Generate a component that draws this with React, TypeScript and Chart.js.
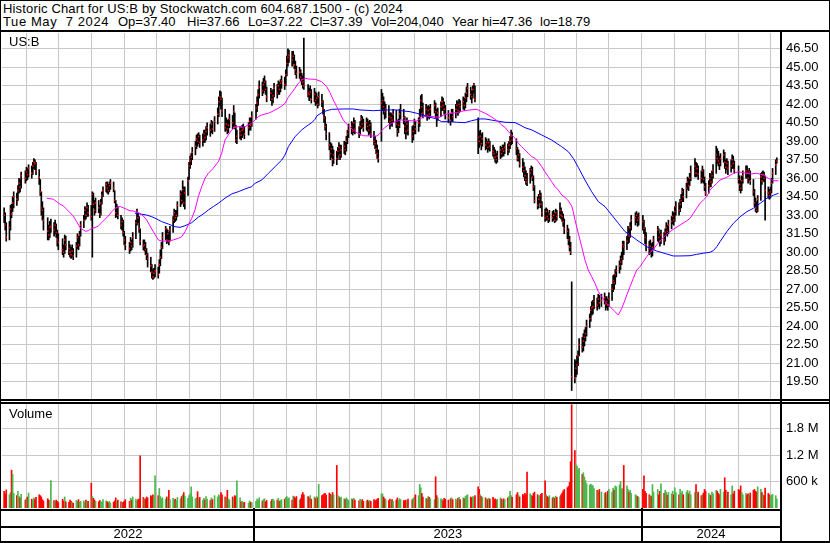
import React, { useEffect, useRef } from 'react';
import { Chart, registerables } from 'chart.js';

Chart.register(...registerables);

// ---------------- data ----------------
const FIRST_TRADING_DAY = [2022, 4, 11]; // 11 May 2022
const HOLIDAYS = [
  '2022-05-30', '2022-06-20', '2022-07-04', '2022-09-05', '2022-11-24', '2022-12-26',
  '2023-01-02', '2023-01-16', '2023-02-20', '2023-04-07', '2023-05-29', '2023-06-19',
  '2023-07-04', '2023-09-04', '2023-11-23', '2023-12-25', '2024-01-01', '2024-01-15',
  '2024-02-19', '2024-03-29',
];

const cl = [
  33.0,32.2,31.2,32.0,33.5,33.1,34.0,34.5,34.3,35.0,
  35.6,35.3,36.2,36.0,36.5,36.3,36.8,36.4,37.0,37.3,
  37.2,36.6,36.1,34.9,33.6,33.4,32.6,31.7,31.4,32.0,
  32.1,31.8,32.2,31.6,31.0,30.8,30.2,30.0,31.0,30.6,
  30.3,30.0,29.8,30.1,29.7,30.5,31.2,30.6,31.4,32.2,
  32.6,33.4,33.0,33.6,33.2,32.9,34.7,33.9,33.4,34.0,
  33.6,33.1,34.0,34.6,35.0,35.5,35.2,35.0,35.4,35.6,
  35.2,34.2,33.2,33.6,33.0,32.2,32.5,31.6,31.0,30.6,
  30.3,30.8,30.5,31.2,32.4,33.3,32.8,31.9,30.9,30.5,
  30.6,30.2,29.8,29.5,28.9,28.4,28.0,28.3,28.5,28.2,
  29.0,29.6,30.4,31.2,31.9,31.0,31.5,30.9,31.8,32.6,
  33.2,32.8,33.0,33.8,34.7,34.2,35.1,34.0,34.8,35.8,
  37.0,37.4,37.7,38.1,38.6,39.2,39.0,39.4,38.9,39.1,
  39.6,39.3,39.8,40.1,39.9,40.4,40.0,40.6,41.2,42.2,
  42.6,42.4,41.5,40.1,40.4,40.0,40.3,40.8,40.5,41.4,
  40.2,39.1,39.4,39.8,39.5,39.9,40.0,39.6,40.1,40.6,
  40.3,41.0,41.7,42.1,42.8,43.4,43.1,43.6,43.8,43.2,
  42.6,42.9,42.4,42.7,43.3,42.9,43.5,43.2,43.7,43.9,
  43.6,44.4,45.3,45.8,46.0,45.6,45.9,45.2,44.8,44.5,
  44.6,44.2,44.0,43.8,43.5,42.9,42.8,43.0,42.4,42.8,
  42.3,42.5,42.0,42.6,42.2,41.6,40.9,40.2,39.6,38.7,
  38.0,38.4,37.5,37.9,37.6,38.2,38.5,37.9,38.3,38.6,
  38.3,39.0,39.6,39.9,40.2,39.8,40.5,40.0,39.6,40.2,
  40.8,40.4,40.1,40.5,40.2,39.9,40.3,39.6,39.0,38.8,
  38.4,38.0,37.6,42.1,42.3,41.8,41.4,41.6,41.0,40.6,
  40.9,40.7,41.2,40.4,39.8,40.3,41.2,41.5,40.9,40.2,
  39.8,40.4,39.9,39.4,39.8,40.3,40.0,40.5,41.0,42.3,
  41.8,41.3,41.6,41.1,41.5,41.2,41.6,41.9,41.4,40.9,
  41.3,41.8,42.2,41.9,41.6,41.2,40.9,40.7,41.3,41.0,
  41.6,41.9,41.5,42.0,41.8,42.2,41.9,42.5,42.9,43.3,
  42.8,42.6,43.2,43.6,42.4,39.3,39.0,39.4,38.8,39.2,
  38.7,38.9,38.5,38.9,38.6,38.2,38.0,37.7,37.5,37.8,
  38.3,38.0,38.4,38.2,38.5,38.3,38.7,39.0,39.4,39.1,
  38.4,37.6,37.9,37.2,36.9,36.6,36.2,35.9,35.7,36.4,
  36.7,36.1,35.3,34.2,33.8,34.3,34.6,33.9,33.2,32.8,
  33.3,32.9,32.7,33.1,32.8,33.0,32.6,33.2,32.9,33.4,
  33.0,32.9,32.5,31.9,31.7,31.0,30.4,30.0,19.9,19.8,
  20.6,20.85,21.6,22.5,22.3,22.8,23.1,23.4,24.0,24.6,
  25.3,25.5,25.6,26.0,25.7,26.2,25.9,26.1,26.3,25.8,
  26.0,25.7,26.2,27.0,27.7,27.5,28.2,28.5,28.9,29.2,
  29.5,30.6,30.45,30.9,31.5,31.3,32.0,32.6,32.8,33.0,
  32.6,32.8,32.5,31.95,31.2,30.6,30.3,30.5,30.1,30.4,
  31.0,31.8,31.2,30.9,31.4,31.0,31.6,32.0,31.7,32.2,
  32.5,32.9,32.6,33.3,33.7,33.4,33.9,34.2,34.9,34.5,
  35.2,35.7,35.4,36.0,36.5,37.0,36.4,36.8,36.35,36.0,
  36.6,35.9,35.3,34.8,35.4,36.0,35.7,36.2,36.6,37.9,
  37.6,37.4,37.2,37.6,37.9,37.3,36.9,37.2,36.8,37.0,
  37.5,37.2,36.7,35.9,35.5,35.2,35.8,36.2,36.6,36.4,
  36.0,36.5,35.8,34.9,34.0,33.6,33.4,34.3,36.1,35.8,
  36.3,36.0,35.0,34.8,34.6,34.9,35.6,36.4,37.1,37.39,
];

const hi = [
  33.6,33.2,32.4,32.5,33.8,33.9,34.5,34.9,34.8,35.4,
  36.0,35.9,36.5,36.6,36.9,36.8,37.1,37.0,37.3,37.6,
  37.5,37.3,36.7,35.9,34.9,34.1,33.6,32.8,32.2,32.5,
  32.7,32.4,32.6,32.3,31.8,31.5,31.1,30.6,31.4,31.3,
  30.9,30.6,30.4,30.6,30.3,30.8,31.5,31.3,31.7,32.5,
  33.0,33.7,33.6,34.0,33.8,33.8,34.9,34.8,34.2,34.4,
  34.2,33.8,34.3,34.9,35.3,35.7,35.7,35.5,35.7,35.9,
  35.7,35.0,34.2,33.9,33.7,33.0,32.8,32.6,31.7,31.3,
  30.8,31.2,31.0,31.6,32.6,33.5,33.2,32.9,31.9,31.0,
  31.0,30.8,30.3,29.9,29.6,29.0,28.6,28.7,29.0,28.8,
  29.4,30.2,30.8,31.6,32.1,31.9,31.8,31.6,32.1,32.9,
  33.5,33.4,33.4,34.1,35.0,34.9,35.8,35.3,35.3,36.1,
  37.3,37.8,38.0,38.5,39.0,39.5,39.6,39.7,39.5,39.6,
  39.9,39.9,40.2,40.5,40.4,40.7,40.6,41.0,41.7,42.6,
  43.1,43.0,42.5,41.6,40.9,40.7,40.8,41.2,41.1,41.9,
  41.3,40.3,39.9,40.2,40.1,40.3,40.4,40.2,40.5,40.9,
  40.9,41.4,42.0,42.6,43.2,43.9,43.8,44.1,44.3,43.9,
  43.4,43.3,43.1,43.2,43.7,43.6,43.9,43.8,44.0,44.3,
  44.2,44.8,45.9,46.5,46.4,46.3,46.3,46.0,45.5,45.1,
  45.0,44.8,44.5,44.3,47.36,43.6,43.3,43.5,43.2,43.3,
  43.0,42.9,42.6,43.0,42.8,42.3,41.6,41.0,40.4,39.7,
  38.9,38.8,38.6,38.3,38.2,38.5,38.9,38.7,38.7,39.0,
  38.9,39.4,39.9,40.4,40.6,40.5,40.9,40.7,40.2,40.6,
  41.1,41.0,40.8,40.9,40.8,40.6,40.7,40.5,39.8,39.4,
  39.1,38.7,38.3,43.2,42.9,42.6,42.2,42.0,41.9,41.3,
  41.3,41.2,41.6,41.5,40.7,40.8,41.6,42.0,41.6,41.0,
  40.5,40.9,40.7,40.2,40.3,40.8,40.6,40.9,41.6,42.7,
  42.8,42.1,42.0,41.8,41.9,41.8,42.0,42.3,42.1,41.6,
  41.7,42.2,42.6,42.5,42.2,41.9,41.5,41.2,41.6,41.6,
  42.0,42.3,42.2,42.4,42.3,42.6,42.5,42.9,43.4,43.7,
  43.4,43.1,43.5,43.7,43.5,40.9,39.8,39.9,39.6,39.7,
  39.3,39.2,39.0,39.2,39.0,38.7,38.5,38.3,38.0,38.2,
  38.6,38.5,38.7,38.7,38.9,38.8,39.0,39.4,39.9,39.7,
  39.2,38.5,38.3,38.0,37.6,37.3,36.9,36.6,36.4,36.8,
  37.0,36.9,36.2,35.4,34.5,34.7,35.0,34.8,34.1,33.5,
  33.6,33.5,33.2,33.4,33.3,33.4,33.2,33.5,33.4,34.0,
  33.6,33.3,33.1,32.7,32.2,31.9,31.3,30.8,27.6,21.3,
  21.2,21.6,22.0,23.0,23.1,23.4,23.7,23.9,24.5,25.0,
  25.6,26.0,26.1,26.5,26.3,26.6,26.5,26.6,26.7,26.4,
  26.4,26.2,26.7,27.4,28.1,28.2,28.6,28.9,29.3,29.7,
  30.0,30.9,30.9,31.3,32.1,31.9,32.4,33.0,33.2,33.3,
  33.1,33.2,33.0,32.6,32.0,31.6,30.9,31.0,30.7,30.8,
  31.3,32.1,31.9,31.5,31.8,31.6,31.9,32.4,32.2,32.6,
  32.9,33.3,33.2,33.7,34.1,34.0,34.3,34.7,35.2,35.1,
  35.6,36.1,36.0,36.4,37.0,37.6,37.3,37.2,37.0,36.6,
  37.0,36.7,36.1,35.6,35.8,36.4,36.3,36.6,37.1,38.6,
  38.4,38.2,37.8,38.0,38.3,38.1,37.5,37.6,37.4,37.5,
  37.9,37.8,37.4,37.0,36.2,35.8,36.2,36.6,37.0,37.0,
  36.6,36.8,36.6,35.9,35.1,34.4,34.1,34.6,36.4,36.5,
  36.6,36.5,36.2,35.3,35.1,35.3,36.0,36.8,37.5,37.66,
];

const lo = [
  32.4,31.8,30.9,31.0,31.8,32.8,33.3,33.6,33.8,34.2,
  34.8,34.9,35.2,35.6,35.8,35.9,36.1,36.0,36.3,36.8,
  36.7,36.3,35.5,34.6,33.0,32.6,31.8,31.0,31.0,31.2,
  31.6,31.3,31.5,31.2,30.5,30.2,29.8,29.6,29.9,30.2,
  29.8,29.6,29.5,29.6,29.4,29.6,30.3,30.2,30.5,31.3,
  32.0,32.6,32.7,32.9,32.9,32.6,29.6,33.6,33.0,33.2,
  33.2,32.8,33.0,33.9,34.5,34.9,34.8,34.7,34.9,35.1,
  34.9,34.0,32.8,32.9,32.7,31.9,31.8,31.3,30.6,30.2,
  29.9,30.1,30.2,30.4,31.1,32.2,32.4,31.6,30.6,30.2,
  30.1,29.8,29.4,28.8,28.4,27.9,27.8,27.9,28.0,27.9,
  28.3,28.9,29.5,30.3,31.0,30.7,30.8,30.6,30.9,31.6,
  32.4,32.5,32.6,32.9,33.7,33.9,34.0,33.7,33.5,34.6,
  35.9,36.8,37.1,37.5,37.9,38.4,38.6,38.8,38.5,38.6,
  38.9,38.9,39.1,39.5,39.4,39.7,39.6,39.8,40.4,41.0,
  41.9,41.6,41.0,39.8,39.9,39.6,39.7,40.1,40.0,40.2,
  40.0,38.9,38.8,39.2,39.1,39.3,39.5,39.2,39.5,39.9,
  39.9,40.2,40.8,41.4,41.9,42.5,42.7,42.9,43.1,42.8,
  42.2,42.3,41.9,42.1,42.6,42.5,42.8,42.8,43.0,43.3,
  43.2,43.5,44.3,45.1,45.4,45.1,45.3,44.9,44.4,44.1,
  44.1,43.9,43.6,43.3,43.2,42.6,42.3,42.5,42.1,42.2,
  41.9,42.0,41.7,41.9,41.8,41.2,40.5,39.9,39.1,38.3,
  37.5,37.7,37.0,37.2,37.1,37.5,37.9,37.5,37.7,38.0,
  37.9,38.2,38.8,39.3,39.6,39.5,39.7,39.6,39.3,39.5,
  40.0,40.1,39.8,39.9,39.8,39.5,39.6,39.3,38.7,38.4,
  38.0,37.6,37.3,39.0,41.5,41.2,40.8,40.9,40.5,40.0,
  40.3,40.2,40.5,40.1,39.4,39.7,40.1,40.8,40.4,39.6,
  39.2,39.6,39.5,38.9,39.1,39.6,39.6,39.8,40.2,41.0,
  41.3,40.9,41.0,40.7,40.9,40.8,41.0,41.3,40.9,40.2,
  40.7,41.0,41.5,41.5,41.2,40.8,40.5,40.3,40.6,40.6,
  40.9,41.3,41.1,41.3,41.4,41.6,41.5,41.7,42.2,42.6,
  42.4,42.1,42.5,42.9,42.2,38.0,38.5,38.7,38.3,38.6,
  38.3,38.4,38.1,38.3,38.2,37.8,37.6,37.3,37.2,37.3,
  37.6,37.7,37.8,37.8,38.0,37.9,38.1,38.4,38.7,38.8,
  37.9,37.4,37.4,36.9,36.5,36.1,35.8,35.5,35.4,35.6,
  36.1,35.8,35.0,34.0,33.5,33.6,34.0,33.6,32.9,32.5,
  32.6,32.6,32.4,32.5,32.5,32.6,32.4,32.5,32.6,32.8,
  32.7,32.5,32.1,31.5,31.1,30.6,30.1,29.8,18.79,19.4,
  19.9,20.1,20.8,21.6,21.9,22.0,22.4,22.8,23.2,23.9,
  24.4,24.9,25.0,25.4,25.3,25.6,25.4,25.6,25.8,25.3,
  25.5,25.3,25.6,26.1,26.8,27.0,27.4,28.0,28.3,28.6,
  29.0,29.4,29.8,30.2,30.7,30.8,31.2,31.8,32.2,32.4,
  32.1,32.2,31.8,31.5,30.7,30.1,29.8,29.9,29.6,29.7,
  30.2,30.9,30.8,30.5,30.7,30.6,30.9,31.4,31.3,31.5,
  31.9,32.3,32.2,32.5,33.0,33.0,33.3,33.6,34.1,34.1,
  34.4,35.1,35.0,35.4,35.8,36.1,36.1,36.2,35.9,35.6,
  35.7,35.6,35.0,34.6,34.8,35.3,35.3,35.6,36.0,36.4,
  37.2,37.0,36.7,37.0,37.3,36.8,36.4,36.7,36.3,36.5,
  36.8,36.8,36.4,35.6,35.0,34.8,35.0,35.6,36.0,36.0,
  35.6,35.8,35.5,34.6,33.7,33.3,33.2,33.3,34.2,35.5,
  35.8,35.7,32.6,34.4,34.3,34.4,34.8,35.6,36.3,37.22,
];

// daily volume, thousands of shares
const volK = [
  380,320,410,300,350,857,764,330,280,380,
  260,230,310,180,220,250,340,200,170,230,
  190,240,300,280,250,190,160,210,180,150,
  620,170,140,180,150,120,200,160,250,140,
  130,180,150,120,110,170,150,190,130,150,
  160,120,180,140,150,564,260,220,180,150,
  140,170,150,130,190,160,140,120,150,110,
  130,160,230,150,180,140,120,130,160,190,
  150,220,180,250,200,160,190,210,1180,240,
  210,200,250,230,280,260,300,250,730,280,
  443,260,210,230,200,250,220,400,190,220,
  180,200,160,240,210,260,300,350,270,220,
  280,320,478,250,210,230,370,200,240,180,
  220,180,260,200,170,230,190,280,250,300,
  260,350,300,250,230,400,200,180,250,220,
  280,260,614,230,140,150,120,130,110,160,
  130,120,150,200,180,230,160,190,210,140,
  170,150,190,200,160,180,220,150,170,190,
  200,240,260,210,230,180,270,250,220,260,
  180,210,300,350,300,260,230,280,200,250,
  220,260,230,535,280,300,320,330,290,340,
  310,280,350,300,964,280,260,230,250,210,
  190,230,200,170,210,190,220,180,160,200,
  170,190,150,160,180,140,170,150,190,160,
  180,200,220,320,320,250,210,190,170,200,
  160,190,150,180,230,170,210,190,170,160,
  180,150,200,190,220,250,300,280,535,460,
  330,250,220,200,260,240,210,190,707,280,
  230,210,190,170,220,200,180,210,230,190,
  200,170,220,240,190,230,210,260,280,300,
  250,230,260,240,280,480,420,300,260,240,
  230,210,190,220,200,240,190,210,180,200,
  230,200,170,210,190,230,260,380,280,240,
  300,350,290,250,310,280,330,300,814,320,
  290,270,330,360,300,250,280,310,330,614,
  300,260,240,280,230,250,220,270,240,260,
  300,340,390,420,460,490,580,1050,2340,1300,
  980,950,870,900,760,800,700,620,550,520,
  540,520,500,440,400,380,420,360,330,350,
  300,380,420,360,450,400,500,480,520,600,
  440,430,964,500,420,360,400,330,300,280,
  260,240,420,728,380,330,300,280,260,530,
  360,420,300,380,550,330,400,360,290,350,
  320,380,300,457,350,300,420,330,380,300,
  360,400,320,380,300,350,528,330,360,280,
  300,340,420,380,330,300,280,360,320,400,
  380,330,300,420,360,685,400,320,360,300,
  500,320,380,420,400,500,350,300,330,290,
  320,280,340,400,420,380,360,480,420,350,
  300,280,450,330,300,260,290,310,280,204.04,
];

// moving averages: [day number since 1 Jan 2022, price]
const maFast = [
  [170.1,34.38],[176.3,34.3],[179.5,34.1],[182.6,33.9],[185.7,33.75],[188.9,33.48],[192.0,33.2],[195.1,32.94],
  [198.3,32.48],[201.4,32.0],[204.5,31.8],[207.0,31.7],[209.2,31.75],[212.4,31.94],[215.5,32.0],[218.6,32.13],
  [221.8,32.4],[224.9,32.67],[228.0,32.94],[231.2,33.29],[234.3,33.56],[237.4,33.7],[239.7,33.7],[242.1,33.6],
  [245.3,33.48],[248.4,33.37],[251.5,33.35],[254.7,33.24],[257.8,33.16],[260.9,32.94],[264.1,32.62],[267.3,32.13],
  [270.4,31.67],[273.6,31.21],[275.1,31.0],[278.3,30.91],[284.5,30.91],[289.2,31.0],[293.9,31.13],[297.1,31.26],
  [300.2,31.67],[303.3,32.21],[306.5,32.75],[309.6,33.43],[312.7,34.5],[315.9,35.32],[319.0,36.0],[322.1,36.4],
  [326.8,36.81],[331.5,37.34],[334.7,38.03],[337.8,39.1],[340.9,39.51],[344.1,39.92],[347.2,40.13],[350.3,40.18],
  [353.5,40.13],[356.6,40.18],[359.7,40.32],[362.9,40.46],[366.1,40.73],[369.2,41.0],[372.4,41.13],[375.5,41.21],
  [378.6,41.27],[381.8,41.4],[384.9,41.54],[388.0,41.68],[391.2,41.86],[394.3,42.08],[397.4,42.57],[400.6,42.94],
  [403.7,43.3],[406.8,43.7],[410.0,43.97],[413.1,44.11],[416.2,44.05],[419.4,44.03],[422.5,44.03],[428.8,43.83],
  [433.5,43.43],[436.6,42.94],[439.7,42.35],[442.9,41.81],[446.0,41.27],[449.1,40.73],[452.3,40.38],[455.4,40.13],
  [458.5,39.92],[461.7,39.7],[464.8,39.57],[468.0,39.45],[474.3,39.43],[480.6,39.43],[483.0,39.57],[485.3,39.86],
  [488.4,40.13],[491.5,40.32],[494.7,40.46],[497.8,40.59],[500.9,40.67],[504.1,40.73],[510.3,40.67],[518.2,40.65],
  [521.3,40.78],[524.4,41.0],[527.6,41.05],[532.3,41.0],[540.1,40.95],[543.2,41.11],[549.5,41.27],[555.8,41.32],
  [562.0,41.46],[568.3,41.54],[574.7,41.59],[577.8,41.46],[582.5,41.27],[587.2,41.05],[591.9,40.78],[595.0,40.59],
  [598.2,40.32],[601.3,40.13],[604.4,39.78],[607.6,39.51],[610.7,39.24],[613.8,38.84],[617.0,38.56],[620.1,38.29],
  [623.2,38.03],[626.4,37.75],[629.5,37.62],[632.6,37.34],[635.8,36.94],[638.9,36.53],[642.0,36.13],[645.2,35.72],
  [648.3,35.32],[651.4,35.05],[654.6,34.64],[657.7,34.46],[660.8,34.18],[664.0,33.75],[665.5,33.29],[667.1,32.62],
  [670.2,31.54],[673.4,30.45],[676.5,29.37],[679.6,28.56],[682.8,28.02],[685.9,27.48],[689.1,26.8],[692.3,26.4],
  [695.4,25.99],[698.5,25.72],[701.7,25.45],[704.8,25.18],[707.9,24.91],[711.1,25.45],[714.2,26.13],[715.8,26.53],
  [718.9,27.21],[722.0,27.89],[725.2,28.56],[728.3,28.83],[731.4,29.23],[734.6,29.64],[737.7,29.96],[740.8,30.24],
  [744.0,30.59],[747.1,30.91],[753.4,31.48],[759.6,31.86],[765.9,32.21],[772.2,32.54],[775.4,32.75],[778.5,33.16],
  [781.6,33.57],[784.8,33.97],[787.9,34.24],[791.1,34.51],[794.2,35.05],[797.3,35.32],[800.5,35.59],[803.6,35.86],
  [809.9,36.08],[816.2,36.4],[820.8,36.53],[825.5,36.45],[831.8,36.35],[838.1,36.4],[844.3,36.27],[849.0,36.0],
  [853.8,35.8],[858.5,35.8],
];

const maSlow = [
  [253.1,33.16],[257.8,33.1],[264.1,33.02],[268.9,32.88],[273.6,32.7],[278.3,32.48],[284.5,32.29],[290.8,32.07],
  [295.5,32.02],[300.2,32.15],[303.3,32.27],[306.5,32.4],[309.6,32.62],[312.7,32.84],[315.9,33.02],[319.0,33.21],
  [322.1,33.43],[326.8,33.7],[331.5,33.97],[334.7,34.18],[337.8,34.38],[344.1,34.73],[350.3,34.91],[356.6,35.13],
  [362.9,35.32],[366.1,35.59],[372.4,35.86],[378.6,36.4],[384.9,36.94],[391.2,37.48],[394.3,37.89],[397.4,38.56],
  [400.6,38.97],[403.7,39.37],[406.8,39.65],[410.0,39.92],[413.1,40.13],[416.2,40.32],[419.4,40.51],[422.5,40.78],
  [424.1,41.05],[428.8,41.32],[433.5,41.48],[438.2,41.59],[449.1,41.62],[458.5,41.62],[464.8,41.54],[477.4,41.48],
  [490.0,41.54],[499.4,41.54],[505.6,41.46],[511.9,41.4],[518.2,41.27],[524.4,41.13],[530.7,40.95],[537.0,40.81],
  [541.7,40.59],[549.5,40.59],[555.8,40.54],[563.6,40.51],[569.9,40.67],[577.8,40.81],[582.5,40.81],[591.9,40.67],
  [601.3,40.54],[610.7,40.51],[615.4,40.32],[620.1,40.1],[626.4,39.92],[635.8,39.51],[645.2,39.1],[654.6,38.56],
  [660.8,38.16],[665.5,37.62],[670.2,36.89],[676.5,35.86],[682.8,34.91],[689.1,34.1],[695.4,33.7],[701.7,33.02],
  [707.9,32.35],[714.2,31.67],[718.9,31.4],[725.2,31.0],[734.6,30.45],[744.0,30.1],[753.4,29.86],[759.6,29.7],
  [765.9,29.7],[775.4,29.72],[781.6,29.83],[787.9,29.92],[794.2,30.0],[797.3,30.13],[800.5,30.45],[803.6,30.86],
  [809.9,31.67],[816.2,32.35],[822.5,32.88],[828.8,33.29],[835.1,33.57],[841.4,33.97],[847.7,34.38],[854.0,34.64],
  [858.7,34.78],
];

const priceTicks = [19.5, 21, 22.5, 24, 25.5, 27, 28.5, 30, 31.5, 33, 34.5, 36, 37.5, 39, 40.5, 42, 43.5, 45, 46.5];
const volTicks = [600000, 1200000, 1800000];
const volTickLabels = ['600 k', '1.2 M', '1.8 M'];
const yearLabels = ['2022', '2023', '2024'];
const titleLine = 'Historic Chart for US:B by Stockwatch.com 604.687.1500 - (c) 2024';
// quote line fields with their x position in the header
const quoteFields: [string, number][] = [
  ['Tue May  7 2024', 3],
  ['Op=37.40', 118],
  ['Hi=37.66', 187],
  ['Lo=37.22', 248],
  ['Cl=37.39', 310],
  ['Vol=204,040', 371],
  ['Year hi=47.36', 452],
  ['lo=18.79', 540],
];
const symbolLabel = 'US:B';
const volumeLabel = 'Volume';

// ---------------- layout / style ----------------
const W = 830;
const H = 543;
const PLOT_L = 2;
const AXIS_W = 50;
const PRICE_TOP = 33;
const PRICE_BOT = 399;
const VOL_TOP = 404;
const VOL_BOT = 508;
const X_MIN = 128;
const X_MAX = 860;
const P_MIN = 18.1;
const P_MAX = 47.78;
const V_MAX = 2355000;
const GRID = '#c8c8c8';
const FONT = '"Liberation Sans", Arial, Helvetica, sans-serif';
const UP = '#4cb84c';
const DOWN = '#ff0000';

const DAY_MS = 86400000;
const EPOCH = Date.UTC(2022, 0, 1);
const dayNum = (t: number) => Math.round((t - EPOCH) / DAY_MS);

function tradingDayNumbers(n: number): number[] {
  const out: number[] = [];
  let t = Date.UTC(FIRST_TRADING_DAY[0], FIRST_TRADING_DAY[1], FIRST_TRADING_DAY[2]);
  while (out.length < n) {
    const dt = new Date(t);
    const wd = dt.getUTCDay();
    const iso = dt.toISOString().slice(0, 10);
    if (wd !== 0 && wd !== 6 && HOLIDAYS.indexOf(iso) < 0) out.push(dayNum(t));
    t += DAY_MS;
  }
  return out;
}

function monthStartNumbers(): number[] {
  const out: number[] = [];
  let y = 2022;
  let m = 0;
  for (;;) {
    const d = dayNum(Date.UTC(y, m, 1));
    if (d > X_MAX) break;
    if (d > X_MIN) out.push(d);
    m += 1;
    if (m > 11) { m = 0; y += 1; }
  }
  return out;
}

const yearStarts = [dayNum(Date.UTC(2023, 0, 1)), dayNum(Date.UTC(2024, 0, 1))];

const noPadV = (s: any) => { s.width = AXIS_W; s.paddingTop = 0; s.paddingBottom = 0; };

export default function App() {
  const priceRef = useRef<HTMLCanvasElement | null>(null);
  const volRef = useRef<HTMLCanvasElement | null>(null);

  useEffect(() => {
    document.body.style.margin = '0';
    const days = tradingDayNumbers(cl.length);
    const months = monthStartNumbers();

    const xScale: any = {
      type: 'linear',
      min: X_MIN,
      max: X_MAX,
      offset: false,
      ticks: { display: false },
      grid: { color: GRID, lineWidth: 1, drawTicks: false, offset: false },
      border: { display: false },
      afterBuildTicks: (s: any) => { s.ticks = months.map((v) => ({ value: v })); },
      afterFit: (s: any) => { s.height = 0; s.paddingLeft = 0; s.paddingRight = 0; },
    };

    const priceChart = new Chart(priceRef.current as HTMLCanvasElement, {
      type: 'bar',
      data: {
        datasets: [
          {
            type: 'line',
            data: maFast.map(([x, y]) => ({ x, y })),
            borderColor: '#ff00ff',
            borderWidth: 1,
            pointRadius: 0,
            tension: 0,
            order: 1,
          } as any,
          {
            type: 'line',
            data: maSlow.map(([x, y]) => ({ x, y })),
            borderColor: '#0000ff',
            borderWidth: 1,
            pointRadius: 0,
            tension: 0,
            order: 2,
          } as any,
          {
            type: 'line',
            data: days.map((x, k) => ({ x, y: cl[k] })),
            showLine: false,
            pointStyle: 'rect',
            pointRadius: 1.05,
            pointBackgroundColor: '#ff0000',
            pointBorderWidth: 0,
            order: 3,
          } as any,
          {
            type: 'bar',
            data: days.map((x, k) => ({ x, y: [lo[k], hi[k]] })),
            backgroundColor: '#000000',
            barThickness: 1,
            order: 4,
          } as any,
        ],
      },
      options: {
        animation: false,
        responsive: false,
        maintainAspectRatio: false,
        devicePixelRatio: 1,
        layout: { autoPadding: false, padding: { left: PLOT_L, right: 0, top: 0, bottom: 0 } },
        plugins: { legend: { display: false }, tooltip: { enabled: false }, title: { display: false } },
        scales: {
          x: xScale,
          y: {
            type: 'linear',
            position: 'right',
            min: P_MIN,
            max: P_MAX,
            afterBuildTicks: (s: any) => { s.ticks = priceTicks.map((v) => ({ value: v })); },
            afterFit: noPadV,
            ticks: {
              autoSkip: false,
              padding: 6,
              color: '#000',
              font: { family: FONT, size: 13 },
              callback: (v: any) => Number(v).toFixed(2),
            },
            grid: { color: GRID, lineWidth: 1, drawTicks: false },
            border: { display: false },
          },
        },
      } as any,
    });

    const volColors = volK.map((_, k) => {
      if (k === 0) return DOWN;
      if (cl[k] > cl[k - 1]) return UP;
      if (cl[k] < cl[k - 1]) return DOWN;
      return '#a0a0a0';
    });

    const bottomRows = {
      id: 'bottomRows',
      afterDraw(chart: any) {
        const ctx = chart.ctx;
        const xs = chart.scales.x;
        const top = chart.chartArea.bottom;
        ctx.save();
        ctx.fillStyle = '#000';
        yearStarts.forEach((d) => {
          const px = Math.round(xs.getPixelForValue(d));
          ctx.fillRect(px - 1, top, 2, H - VOL_TOP - top);
        });
        const bounds = [xs.left, ...yearStarts.map((d) => xs.getPixelForValue(d)), xs.right];
        ctx.font = `13px ${FONT}`;
        ctx.textAlign = 'center';
        ctx.textBaseline = 'middle';
        yearLabels.forEach((lab, i) => {
          ctx.fillText(lab, (bounds[i] + bounds[i + 1]) / 2, 534 - VOL_TOP);
        });
        ctx.restore();
      },
    };

    const volChart = new Chart(volRef.current as HTMLCanvasElement, {
      type: 'bar',
      data: {
        datasets: [
          {
            data: days.map((x, k) => ({ x, y: volK[k] * 1000 })),
            backgroundColor: volColors,
            barThickness: 1,
          } as any,
        ],
      },
      options: {
        animation: false,
        responsive: false,
        maintainAspectRatio: false,
        devicePixelRatio: 1,
        layout: { autoPadding: false, padding: { left: PLOT_L, right: 0, top: 0, bottom: H - VOL_BOT } },
        plugins: { legend: { display: false }, tooltip: { enabled: false }, title: { display: false } },
        scales: {
          x: xScale,
          y: {
            type: 'linear',
            position: 'right',
            min: 0,
            max: V_MAX,
            afterBuildTicks: (s: any) => { s.ticks = volTicks.map((v) => ({ value: v })); },
            afterFit: noPadV,
            ticks: {
              autoSkip: false,
              padding: 6,
              color: '#000',
              font: { family: FONT, size: 13 },
              callback: (v: any) => volTickLabels[volTicks.indexOf(Number(v))] ?? '',
            },
            grid: { color: GRID, lineWidth: 1, drawTicks: false },
            border: { display: false },
          },
        },
      } as any,
      plugins: [bottomRows],
    });

    return () => {
      priceChart.destroy();
      volChart.destroy();
    };
  }, []);

  const line = (l: number, t: number, w: number, h: number) => (
    <div style={{ position: 'absolute', left: l, top: t, width: w, height: h, background: '#000' }} />
  );
  const text: React.CSSProperties = {
    position: 'absolute',
    fontFamily: FONT,
    fontSize: 13,
    lineHeight: '13px',
    color: '#000',
    whiteSpace: 'pre',
  };

  return (
    <div style={{ position: 'fixed', left: 0, top: 0, width: W, height: H, background: '#fff', overflow: 'hidden' }}>
      <canvas
        ref={priceRef}
        width={W}
        height={PRICE_BOT - PRICE_TOP}
        style={{ position: 'absolute', left: 0, top: PRICE_TOP, width: W, height: PRICE_BOT - PRICE_TOP }}
      />
      <canvas
        ref={volRef}
        width={W}
        height={H - VOL_TOP}
        style={{ position: 'absolute', left: 0, top: VOL_TOP, width: W, height: H - VOL_TOP }}
      />
      <div style={{ ...text, left: 3, top: 2, letterSpacing: '0.16px' }}>{titleLine}</div>
      {quoteFields.map(([s, x]) => (
        <div key={s} style={{ ...text, left: x, top: 15, letterSpacing: s.startsWith('Tue') ? '0.6px' : '0px' }}>{s}</div>
      ))}
      <div style={{ ...text, left: 9, top: 35 }}>{symbolLabel}</div>
      <div style={{ ...text, left: 9, top: 407 }}>{volumeLabel}</div>
      {/* frame */}
      {line(0, 0, W, 1)}
      {line(0, 0, 1, H)}
      {line(W - 1, 0, 1, H)}
      {line(0, H - 2, W, 2)}
      {line(0, 30, W, 2)}
      {line(780, 31, 2, H - 31)}
      {line(0, 399, W, 2)}
      {line(0, 402, W, 2)}
      {line(0, 509, 782, 2)}
      {line(0, 526, 782, 2)}
    </div>
  );
}
